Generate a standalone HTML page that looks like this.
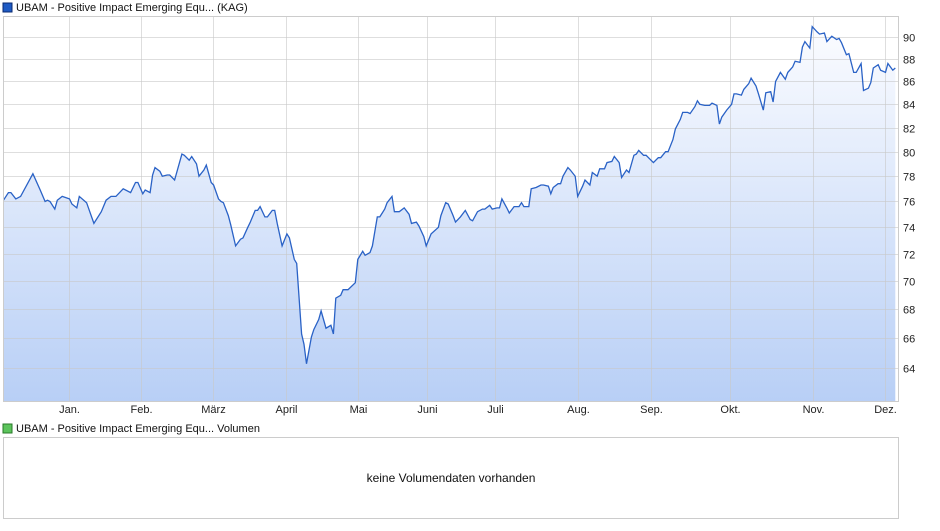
<!DOCTYPE html>
<html><head><meta charset="utf-8"><style>
body{margin:0;background:#fff;font-family:"Liberation Sans",Arial,sans-serif;}
svg text{font-family:"Liberation Sans",Arial,sans-serif;}
</style></head><body>
<svg id="c" width="940" height="526" xmlns="http://www.w3.org/2000/svg">
<defs><linearGradient id="g" x1="0" y1="0" x2="0" y2="1">
<stop offset="0" stop-color="#fbfcff"/><stop offset="1" stop-color="#b8cff6"/></linearGradient></defs>
<rect x="3" y="3" width="9" height="9" fill="#1f5bc4" stroke="#0a2a70" stroke-width="1"/>
<text x="16" y="11" font-size="11" fill="#111">UBAM - Positive Impact Emerging Equ... (KAG)</text>
<path id="area" fill="url(#g)"/>
<g id="grid"></g>
<path id="line" fill="none" stroke="#2a62c6" stroke-width="1.3"/>
<rect x="3.5" y="16.5" width="895" height="385" fill="none" stroke="#ccc"/>
<g id="labels"></g>
<rect x="3" y="424" width="9" height="9" fill="#5cc45c" stroke="#2a7a2a"/>
<text x="16" y="432" font-size="11" fill="#111">UBAM - Positive Impact Emerging Equ... Volumen</text>
<rect x="3.5" y="437.5" width="895" height="81" fill="#fff" stroke="#ccc"/>
<text x="451" y="482" font-size="12" fill="#111" text-anchor="middle">keine Volumendaten vorhanden</text>
</svg>
<script>
const yTicks=[64,66,68,70,72,74,76,78,80,82,84,86,88,90];
const months=["Jan.","Feb.","März","April","Mai","Juni","Juli","Aug.","Sep.","Okt.","Nov.","Dez."];
const monthPos=[0.0735,0.154,0.2345,0.316,0.3965,0.4735,0.5495,0.642,0.7235,0.812,0.9045,0.985];
const days=[-27,-25,-24,-22,-20,-15,-12,-10,-9,-8,-6,-5,-3,0,1,3,4,7,10,13,15,17,19,22,25,27,28,30,31,33,34,35,37,38,40,41,43,46,47,49,50,52,53,55,56,58,59,61,62,63,65,66,68,70,71,73,74,76,77,78,80,81,83,84,85,87,89,90,92,93,95,96,97,99,100,102,103,105,107,108,109,111,112,114,117,118,120,121,123,124,126,127,129,130,132,133,135,137,139,140,142,143,145,146,148,151,152,154,155,157,158,160,162,164,
165,167,169,170,172,173,175,176,177,179,180,182,184,185,186,188,189,191,193,194,196,197,198,200,201,202,204,205,207,208,210,211,213,214,216,217,219,220,222,223,225,226,228,229,231,232,233,235,236,238,239,241,242,244,245,247,248,250,251,253,254,256,257,258,260,262,263,265,266,267,269,271,272,273,275,276,278,279,281,282,284,285,287,288,289,291,293,294,296,297,299,300,301,303,304,306,307,309,310,312,314,315,316,318,319,321,322,324,325,327,328,329,331,332,334,335,337,338];
const prices=[76.1,76.7,76.7,76.2,76.4,78.2,76.9,76.0,76.1,76.0,75.4,76.1,76.4,76.2,75.8,75.5,76.4,75.9,74.3,75.2,76.1,76.4,76.4,77.0,76.7,77.5,77.5,76.6,76.9,76.7,78.1,78.7,78.4,78.0,78.1,78.1,77.7,79.8,79.7,79.3,79.6,79.0,78.0,78.5,78.9,77.5,77.3,76.2,76.0,75.9,74.9,74.2,72.6,73.1,73.2,74.0,74.4,75.3,75.3,75.6,74.8,74.8,75.3,75.3,74.3,72.6,73.5,73.2,71.6,71.3,66.3,65.6,64.3,66.1,66.6,67.3,67.9,66.7,66.9,66.3,68.8,69.0,69.4,69.4,69.9,71.6,72.2,71.9,72.1,72.6,74.8,74.8,75.4,75.9,76.4,75.2,75.2,75.5,75.0,74.3,74.4,74.1,73.3,72.6,73.5,74.0,74.9,75.9,75.8,74.9,74.4,74.8,75.3,74.6,
74.5,75.2,75.4,75.4,75.7,75.4,75.5,75.5,76.2,75.5,75.1,75.6,75.6,75.9,75.6,75.6,77.0,77.1,77.3,77.3,77.2,76.6,77.1,77.4,77.4,78.0,78.7,78.5,78.0,76.4,77.2,77.7,77.3,78.3,78.0,78.6,78.6,79.1,79.2,79.6,79.1,77.9,78.5,78.3,79.7,79.8,80.1,79.7,79.7,79.3,79.1,79.5,79.5,80.0,80.0,81.0,81.9,82.7,83.3,83.3,83.2,83.8,84.3,84.0,83.9,83.9,84.1,83.9,82.3,82.9,83.5,84.0,84.9,84.9,84.8,85.3,85.8,86.3,85.6,84.9,83.5,85.0,85.1,84.2,86.0,86.8,86.2,86.8,87.3,87.8,87.7,89.1,89.6,89.0,91.0,90.5,90.3,90.4,89.6,90.1,89.8,89.9,89.5,88.4,88.5,86.8,86.8,87.6,85.2,85.4,85.9,87.2,87.5,87.0,86.8,87.6,87.0,87.2];
const PL=3,PR=898,PT=16,PB=401;
const b=331/Math.log(90/64);
function yOf(v){return 37.3-b*Math.log(v/90);}
function xOf(d){return 69.5+d*816/334;}
const NS="http://www.w3.org/2000/svg";
const grid=document.getElementById('grid'),lab=document.getElementById('labels');
yTicks.forEach(t=>{const y=Math.round(yOf(t))+0.5;
 const l=document.createElementNS(NS,'line');l.setAttribute('x1',PL);l.setAttribute('x2',PR);l.setAttribute('y1',y);l.setAttribute('y2',y);l.setAttribute('stroke','#c8c8c8');l.setAttribute('stroke-opacity','0.6');
 
 
 grid.appendChild(l);
 const tx=document.createElementNS(NS,'text');tx.setAttribute('x',903);tx.setAttribute('y',y+4);tx.setAttribute('font-size','11');tx.setAttribute('fill','#222');tx.textContent=t;
 
 
 lab.appendChild(tx);});
months.forEach((m,i)=>{const x=Math.round(PL+(PR-PL)*monthPos[i])+0.5;
 const l=document.createElementNS(NS,'line');l.setAttribute('x1',x);l.setAttribute('x2',x);l.setAttribute('y1',PT);l.setAttribute('y2',PB);l.setAttribute('stroke','#c8c8c8');l.setAttribute('stroke-opacity','0.6');
 
 
 grid.appendChild(l);
 const tx=document.createElementNS(NS,'text');tx.setAttribute('x',x);tx.setAttribute('y',413);tx.setAttribute('font-size','11');tx.setAttribute('fill','#222');tx.setAttribute('text-anchor','middle');tx.textContent=m;
 
 
 lab.appendChild(tx);});
const n=Math.min(days.length,prices.length);
let d='';for(let i=0;i<n;i++){d+=(i?'L':'M')+xOf(days[i]).toFixed(1)+','+yOf(prices[i]).toFixed(1);}
document.getElementById('line').setAttribute('d',d);
document.getElementById('area').setAttribute('d',d+'L'+xOf(days[n-1]).toFixed(1)+','+PB+'L'+xOf(days[0]).toFixed(1)+','+PB+'Z');
</script>
</body></html>
